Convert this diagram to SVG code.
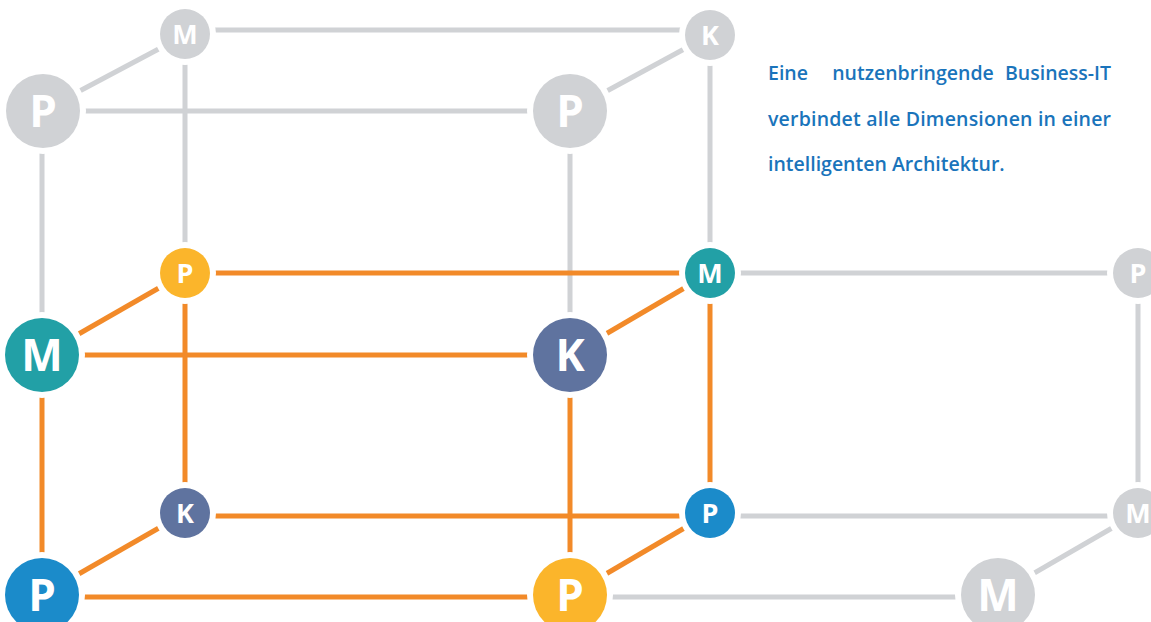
<svg xmlns="http://www.w3.org/2000/svg" width="1151" height="622" viewBox="0 0 1151 622">
<style>
.g{stroke:#d0d2d5;stroke-width:5;fill:none}
.o{stroke:#f28a29;stroke-width:5;fill:none}
.halo{fill:#fff}
.lbl{fill:#fff;font-family:"Open Sans","Liberation Sans",sans-serif;font-weight:700;text-anchor:middle}
.s{font-size:27px}
.L{font-size:44px}
.gray{fill:#d0d2d5}
.yel{fill:#fbb52b}
.teal{fill:#22a0a6}
.slate{fill:#5f739f}
.blue{fill:#1b8bca}
.txt{fill:#1a74bb;font-family:"Open Sans","Liberation Sans",sans-serif;font-weight:600;font-size:19.5px}
</style>
<g id="connectors">
<line class="g" x1="185" y1="30" x2="710" y2="30"/>
<line class="g" x1="42" y1="111" x2="570" y2="111"/>
<line class="g" x1="42" y1="111" x2="185" y2="35"/>
<line class="g" x1="570" y1="111" x2="710" y2="35"/>
<line class="g" x1="185" y1="35" x2="185" y2="273"/>
<line class="g" x1="42" y1="111" x2="42" y2="355"/>
<line class="g" x1="570" y1="111" x2="570" y2="355"/>
<line class="g" x1="710" y1="35" x2="710" y2="273"/>
<line class="g" x1="710" y1="273" x2="1138" y2="273"/>
<line class="g" x1="710" y1="516" x2="1138" y2="516"/>
<line class="g" x1="1138" y1="273" x2="1138" y2="513"/>
<line class="g" x1="570" y1="597" x2="998" y2="597"/>
<line class="g" x1="998" y1="594" x2="1138" y2="513"/>
<line class="o" x1="185" y1="273" x2="710" y2="273"/>
<line class="o" x1="42" y1="355" x2="570" y2="355"/>
<line class="o" x1="42" y1="355" x2="185" y2="273"/>
<line class="o" x1="570" y1="355" x2="710" y2="273"/>
<line class="o" x1="42" y1="355" x2="42" y2="595"/>
<line class="o" x1="185" y1="273" x2="185" y2="513"/>
<line class="o" x1="570" y1="355" x2="570" y2="595"/>
<line class="o" x1="710" y1="273" x2="710" y2="513"/>
<line class="o" x1="185" y1="516" x2="710" y2="516"/>
<line class="o" x1="42" y1="597" x2="570" y2="597"/>
<line class="o" x1="42" y1="595" x2="185" y2="513"/>
<line class="o" x1="570" y1="595" x2="710" y2="513"/>
</g>
<g id="n-m-top"><circle class="halo" cx="185" cy="34" r="31"/><circle class="gray" cx="185" cy="34" r="25"/><text class="lbl s" x="185" y="44">M</text></g>
<g id="n-k-top"><circle class="halo" cx="710" cy="35" r="31"/><circle class="gray" cx="710" cy="35" r="25"/><text class="lbl s" x="710" y="45">K</text></g>
<g id="n-p-back-left"><circle class="halo" cx="43" cy="111" r="43"/><circle class="gray" cx="43" cy="111" r="37"/><text class="lbl L" x="43" y="127">P</text></g>
<g id="n-p-back-right"><circle class="halo" cx="570" cy="111" r="43"/><circle class="gray" cx="570" cy="111" r="37"/><text class="lbl L" x="570" y="127">P</text></g>
<g id="n-p-yellow-small"><circle class="halo" cx="185" cy="273" r="31"/><circle class="yel" cx="185" cy="273" r="25"/><text class="lbl s" x="185" y="283">P</text></g>
<g id="n-m-teal-small"><circle class="halo" cx="710" cy="273" r="31"/><circle class="teal" cx="710" cy="273" r="25"/><text class="lbl s" x="710" y="283">M</text></g>
<g id="n-p-gray-right"><circle class="halo" cx="1138" cy="273" r="31"/><circle class="gray" cx="1138" cy="273" r="25"/><text class="lbl s" x="1138" y="283">P</text></g>
<g id="n-m-teal-large"><circle class="halo" cx="42" cy="355" r="43"/><circle class="teal" cx="42" cy="355" r="37"/><text class="lbl L" x="42" y="371">M</text></g>
<g id="n-k-slate-large"><circle class="halo" cx="570" cy="355" r="43"/><circle class="slate" cx="570" cy="355" r="37"/><text class="lbl L" x="570" y="371">K</text></g>
<g id="n-k-slate-small"><circle class="halo" cx="185" cy="513" r="31"/><circle class="slate" cx="185" cy="513" r="25"/><text class="lbl s" x="185" y="523">K</text></g>
<g id="n-p-blue-small"><circle class="halo" cx="710" cy="513" r="31"/><circle class="blue" cx="710" cy="513" r="25"/><text class="lbl s" x="710" y="523">P</text></g>
<g id="n-m-gray-right"><circle class="halo" cx="1138" cy="513" r="31"/><circle class="gray" cx="1138" cy="513" r="25"/><text class="lbl s" x="1138" y="523">M</text></g>
<g id="n-p-blue-large"><circle class="halo" cx="42" cy="595" r="43"/><circle class="blue" cx="42" cy="595" r="37"/><text class="lbl L" x="42" y="611">P</text></g>
<g id="n-p-yellow-large"><circle class="halo" cx="570" cy="595" r="43"/><circle class="yel" cx="570" cy="595" r="37"/><text class="lbl L" x="570" y="611">P</text></g>
<g id="n-m-gray-large"><circle class="halo" cx="998" cy="595" r="43"/><circle class="gray" cx="998" cy="595" r="37"/><text class="lbl L" x="998" y="611">M</text></g>
<g id="caption">
<text class="txt" x="768" y="80">Eine</text>
<text class="txt" x="913" y="80" text-anchor="middle">nutzenbringende</text>
<text class="txt" x="1111" y="80" text-anchor="end">Business-IT</text>
<text class="txt" x="768" y="126" textLength="343" lengthAdjust="spacing">verbindet alle Dimensionen in einer</text>
<text class="txt" x="768" y="171">intelligenten Architektur.</text>
</g>
</svg>
